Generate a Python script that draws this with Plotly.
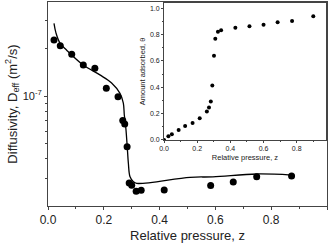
import plotly.graph_objects as go

# Main plot: diffusivity vs relative pressure
z_points = [0.0215, 0.044, 0.085, 0.1265, 0.168, 0.209, 0.251, 0.268, 0.275, 0.2835,
            0.291, 0.300, 0.316, 0.334, 0.4165, 0.583, 0.664, 0.748, 0.873]
d_points = [2.26e-7, 2.08e-7, 1.84e-7, 1.57e-7, 1.50e-7, 1.12e-7, 0.99e-7, 7.0e-8, 6.65e-8, 4.78e-8,
            2.82e-8, 2.72e-8, 2.50e-8, 2.53e-8, 2.54e-8, 2.71e-8, 2.86e-8, 3.08e-8, 3.12e-8]

z_fit = [0.0215, 0.0287, 0.043, 0.067, 0.1265, 0.186, 0.228, 0.258, 0.270, 0.2735, 0.276,
         0.2796, 0.284, 0.288, 0.294, 0.306, 0.318, 0.509, 0.591, 0.748, 0.873]
d_fit = [2.88e-7, 2.50e-7, 2.16e-7, 1.95e-7, 1.57e-7, 1.36e-7, 1.21e-7, 1.04e-7, 9.03e-8, 7.58e-8, 7.05e-8,
         6.09e-8, 4.77e-8, 3.77e-8, 3.08e-8, 2.87e-8, 2.80e-8, 3.06e-8, 3.08e-8, 3.21e-8, 3.16e-8]

# Inset: adsorption isotherm
z_iso = [0.0, 0.026, 0.047, 0.088, 0.127, 0.172, 0.215, 0.258, 0.271, 0.282, 0.291,
         0.301, 0.309, 0.325, 0.344, 0.430, 0.515, 0.600, 0.685, 0.772, 0.900]
theta_iso = [0.0, 0.028, 0.043, 0.075, 0.105, 0.129, 0.164, 0.216, 0.246, 0.291, 0.413,
             0.640, 0.769, 0.821, 0.834, 0.853, 0.863, 0.875, 0.893, 0.903, 0.940]

main_xticks = [0.0, 0.2, 0.4, 0.6, 0.8, 1.0]
main_xtick_text = ["0.0", "0.2", "0.4", "0.6", "0.8", "1.0"]
main_yticks = [1e-7]
main_ytick_text = ["10<sup>-7</sup>"]
main_yminor = [2e-8, 3e-8, 4e-8, 5e-8, 6e-8, 7e-8, 8e-8, 9e-8, 2e-7, 3e-7]
inset_xticks = [0.0, 0.2, 0.4, 0.6, 0.8]
inset_yticks = [0.0, 0.2, 0.4, 0.6, 0.8, 1.0]

FONT = "Liberation Sans, Arial, sans-serif"
AX = "#444"

fig = go.Figure()
fig.add_trace(go.Scatter(x=z_fit, y=d_fit, mode="lines", line=dict(color="black", width=1.3),
                         line_shape="spline", showlegend=False))
fig.add_trace(go.Scatter(x=z_points, y=d_points, mode="markers",
                         marker=dict(color="black", size=7), showlegend=False))
fig.add_trace(go.Scatter(x=z_iso, y=theta_iso, mode="markers", xaxis="x2", yaxis="y2",
                         marker=dict(color="black", size=4), showlegend=False))

axis_common = dict(showline=True, linecolor=AX, linewidth=1, mirror=True, showgrid=False,
                   zeroline=False, ticks="outside", tickcolor=AX)

fig.update_layout(
    width=335, height=246,
    margin=dict(l=48, r=8, t=2, b=40),
    paper_bgcolor="white", plot_bgcolor="white",
    font=dict(family=FONT, color="#222"),
    xaxis=dict(**axis_common, range=[0, 1], tickvals=main_xticks, ticktext=main_xtick_text,
               ticklen=3, tickfont=dict(size=12),
               minor=dict(tickvals=[0.1, 0.3, 0.5, 0.7, 0.9], ticks="outside", ticklen=2, tickcolor=AX),
               title=dict(text="Relative pressure, z", font=dict(size=13), standoff=4)),
    yaxis=dict(**axis_common, type="log", range=[-7.696, -6.405], tickvals=main_yticks,
               ticktext=main_ytick_text, ticklen=3, tickfont=dict(size=11),
               minor=dict(tickvals=main_yminor, ticks="outside", ticklen=2, tickcolor=AX),
               title=dict(text="Diffusivity, D<sub>eff</sub> (m<sup>2</sup>/s)", font=dict(size=13), standoff=2)),
    xaxis2=dict(**axis_common, domain=[0.416, 0.996], anchor="y2", range=[0, 0.976],
                tickvals=inset_xticks, ticktext=["0.0", "0.2", "0.4", "0.6", "0.8"],
                ticklen=2, tickfont=dict(size=7),
                minor=dict(tickvals=[0.1, 0.3, 0.5, 0.7, 0.9], ticks="outside", ticklen=1, tickcolor=AX),
                title=dict(text="Relative pressure, z", font=dict(size=7.5), standoff=3)),
    yaxis2=dict(**axis_common, domain=[0.324, 0.995], anchor="x2", range=[0, 1.04],
                tickvals=inset_yticks, ticktext=["0.0", "0.2", "0.4", "0.6", "0.8", "1.0"],
                ticklen=2, tickfont=dict(size=7),
                minor=dict(tickvals=[0.1, 0.3, 0.5, 0.7, 0.9], ticks="outside", ticklen=1, tickcolor=AX),
                title=dict(text="Amount adsorbed, θ", font=dict(size=7.5), standoff=3)),
)

fig.write_html("out.html", config={"displayModeBar": False},
               post_script="document.body.style.margin='0';document.body.style.overflow='hidden';")
